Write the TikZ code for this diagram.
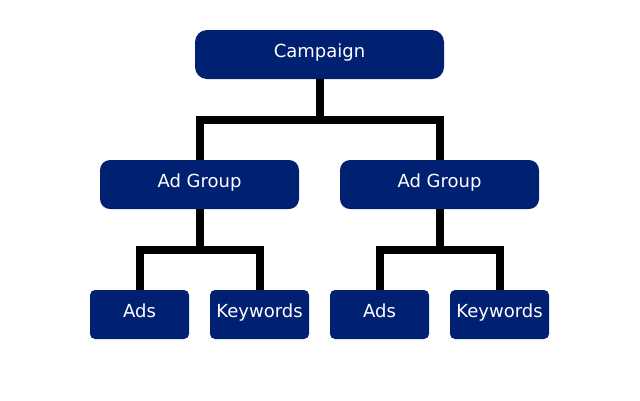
\documentclass[tikz,border=0pt]{standalone}
\usepackage{fontspec}
\setmainfont{DejaVu Sans}
\usepackage{tikz}
\usetikzlibrary{shapes,arrows}
\definecolor{adnavy}{RGB}{0,33,113}
\tikzstyle{campaignblock} = [rectangle, fill=adnavy, text=white, inner sep=0pt,
text height=10pt, text depth=5pt,
minimum width=249pt, minimum height=49pt, rounded corners=12pt]
\tikzstyle{groupblock} = [rectangle, fill=adnavy, text=white, inner sep=0pt,
text height=10pt, text depth=5pt,
minimum width=199pt, minimum height=49pt, rounded corners=10pt]
\tikzstyle{leafblock} = [rectangle, fill=adnavy, text=white, inner sep=0pt,
text height=10pt, text depth=5pt,
minimum width=99pt, minimum height=49pt, rounded corners=5pt]
\tikzstyle{line} = [draw, line width=8pt, line join=miter]

\begin{document}
\begin{tikzpicture}[x=1pt, y=1pt, node distance=130pt,
  font=\fontsize{18}{21}\selectfont]
\useasboundingbox (0,0) rectangle (640,-400);
% Place nodes
\node [campaignblock] (campaign) at (319.5,-54.5) {Campaign};
\node [groupblock, below of=campaign, xshift=-120pt] (group1) {Ad Group};
\node [groupblock, below of=campaign, xshift=120pt] (group2) {Ad Group};
\node [leafblock, below of=group1, xshift=-60pt] (ads1) {Ads};
\node [leafblock, below of=group1, xshift=60pt] (keywords1) {Keywords};
\node [leafblock, below of=group2, xshift=-60pt] (ads2) {Ads};
\node [leafblock, below of=group2, xshift=60pt] (keywords2) {Keywords};
\coordinate [below of=campaign, node distance=65pt] (split);
\coordinate [below of=group1, node distance=65pt] (split1);
\coordinate [below of=group2, node distance=65pt] (split2);
% Draw edges
\path [line] (campaign) -- (split);
\path [line] (group1.north) |- (split) -| (group2.north);
\path [line] (group1) -- (split1);
\path [line] (ads1.north) |- (split1) -| (keywords1.north);
\path [line] (group2) -- (split2);
\path [line] (ads2.north) |- (split2) -| (keywords2.north);
\end{tikzpicture}
\end{document}
